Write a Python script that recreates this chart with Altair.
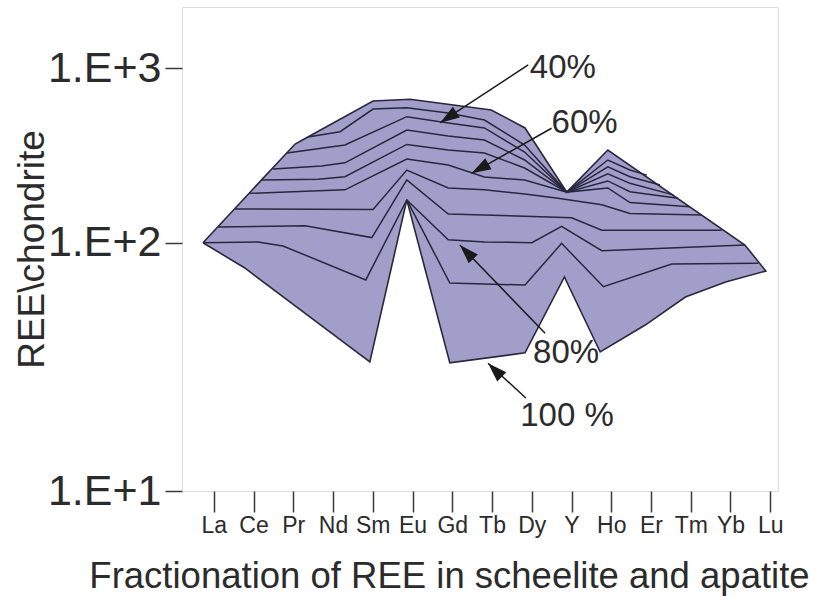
import altair as alt
import pandas as pd

elements = ["La", "Ce", "Pr", "Nd", "Sm", "Eu", "Gd", "Tb", "Dy", "Y", "Ho", "Er", "Tm", "Yb", "Lu"]

# upper envelope (x = position along the element axis, v = REE/chondrite)
top_x = [0, 2.29, 2.61, 4.23, 5.15, 7.17, 8.01, 9.05, 10.07, 13.48, 14]
top_v = [100, 368, 404, 650, 664, 577, 455, 195, 340, 97.9, 76.9]
# lower envelope (100 %)
bot_x = [0, 1.04, 4.15, 5.07, 6.14, 8.01, 8.99, 9.88, 11, 12, 13, 14]
bot_v = [100, 79.1, 33.1, 176, 32.8, 36.0, 72.8, 36.3, 46.6, 60.4, 69.5, 76.9]

# interior fractionation curves
A_x = [2.61, 3.41, 4.23, 5.07, 6.1, 7.0, 8.0, 9.05, 10.07, 10.62, 11.04]
A_v = [404, 433, 584, 594, 554, 505, 363, 195, 298, 261, 244]
B_x = [2.09, 3.53, 5.07, 6.1, 7.0, 8.0, 9.05, 10.07, 10.62, 11.37]
B_v = [327, 363, 528, 486, 455, 331, 195, 272, 239, 214]
C_x = [1.74, 2.95, 3.53, 5.07, 6.1, 7.0, 8.0, 9.05, 10.07, 10.62, 11.70]
C_v = [265, 275, 287, 443, 409, 388, 298, 195, 248, 219, 188]
D_x = [1.47, 2.87, 3.53, 5.07, 6.1, 7.0, 8.0, 9.05, 10.07, 10.62, 11.82]
D_v = [229, 231, 239, 366, 340, 327, 268, 195, 226, 196, 180]
E_x = [1.17, 3.53, 5.07, 6.1, 7.0, 8.0, 9.05, 10.07, 10.62, 12.11]
E_v = [192, 201, 302, 279, 238, 229, 195, 206, 170, 161]
F_x = [0.80, 4.23, 5.07, 6.1, 7.0, 8.0, 8.83, 9.92, 10.62, 12.41]
F_v = [156, 155, 261, 206, 201, 190, 180, 165, 147, 144]
G_x = [0.37, 2.54, 4.2, 5.07, 6.1, 7.0, 8.0, 9.17, 9.92, 12.90]
G_v = [123, 125, 107, 229, 146, 144, 142, 139, 118, 118]
H_x = [0, 1.37, 1.99, 4.05, 5.07, 6.1, 7.0, 8.18, 8.92, 9.92, 13.48]
H_v = [100, 101, 97.0, 70.8, 176, 104, 101, 100, 124, 92.9, 97.9]
I_x = [5.07, 6.14, 8.01, 8.92, 9.96, 11.66, 13.81]
I_v = [176, 68.8, 67.5, 99.4, 66.5, 82.0, 82.6]

# annotations
ann_text = ["40%", "60%", "80%", "100 %"]
ann_x = [8.13, 8.67, 8.21, 7.89]
ann_v = [1004, 484, 36.0, 20.0]
tail_x = [8.09, 8.67, 8.51, 8.03]
tail_v = [1045, 453, 43.2, 23.7]
tip_x = [5.90, 6.68, 6.39, 7.09]
tip_v = [488, 250, 97.9, 32.7]
head_angle = [236.8, 240.6, 316.1, 314.8]

FILL = "#a19fca"
LINE = "#28273d"
FONT = "Liberation Sans"
FRAME = "#3a3a3a"
TEXT = "#2b2b2b"

poly_x = top_x + bot_x[::-1][1:]
poly_v = top_v + bot_v[::-1][1:]
poly = pd.DataFrame({"x": poly_x, "v": poly_v, "o": list(range(len(poly_x)))})

rows = []
for name, xs_, vs_ in [("A", A_x, A_v), ("B", B_x, B_v), ("C", C_x, C_v), ("D", D_x, D_v),
                       ("E", E_x, E_v), ("F", F_x, F_v), ("G", G_x, G_v), ("H", H_x, H_v),
                       ("I", I_x, I_v)]:
    for k, (xx, vv) in enumerate(zip(xs_, vs_)):
        rows.append({"s": name, "x": xx, "v": vv, "o": k})
lines = pd.DataFrame(rows)

arrows = pd.DataFrame({"x": tail_x, "v": tail_v, "x2": tip_x, "v2": tip_v, "a": head_angle})
labels = pd.DataFrame({"t": ann_text, "x": ann_x, "v": ann_v})
ticks = pd.DataFrame({"i": list(range(len(elements))), "v": [100] * len(elements)})

xs = alt.Scale(domain=[-0.522, 14.303], nice=False, zero=False)
ys = alt.Scale(type="log", domain=[10, 100, 1000, 2246], range=[484, 235.7, 61.3, 0], nice=False)

label_expr = "[" + ",".join("'%s'" % e for e in elements) + "][datum.value]"

yaxis = alt.Axis(values=[10, 100, 1000],
                 labelExpr="'1.E+' + round(log(datum.value)/LN10)",
                 title="REE\\chondrite", titleFontSize=37, titleFont=FONT,
                 titleFontWeight="normal", titleColor=TEXT,
                 titleX=-150, titleY=242, titleAngle=270,
                 titleAlign="center", titleBaseline="middle",
                 labelFontSize=43, labelFont=FONT, labelColor=TEXT,
                 labelPadding=4, tickSize=17, tickColor=FRAME, tickWidth=1.5,
                 domain=False, grid=False)


def Y(field):
    return alt.Y(field, scale=ys, axis=yaxis)


axis_layer = alt.Chart(ticks).mark_point(opacity=0).encode(
    x=alt.X("i:Q", scale=alt.Scale(domain=[-0.799, 14.195], nice=False, zero=False),
            axis=alt.Axis(values=list(range(len(elements))), labelExpr=label_expr,
                          title="Fractionation of REE in scheelite and apatite",
                          titleFontSize=36.5, titleFont=FONT, titleFontWeight="normal",
                          titleColor=TEXT, titleX=267, titleY=85, titleAlign="center",
                          titleBaseline="middle",
                          labelFontSize=23, labelFont=FONT, labelColor=TEXT,
                          labelPadding=2, tickSize=21, tickColor=FRAME, tickWidth=1.5,
                          domain=False, grid=False)),
    y=Y("v:Q"),
)

polygon = alt.Chart(poly).mark_line(fill=FILL, stroke=LINE, strokeWidth=1.6).encode(
    x=alt.X("x:Q", scale=xs, axis=None),
    y=Y("v:Q"),
    order="o:Q",
)

curves = alt.Chart(lines).mark_line(stroke=LINE, strokeWidth=1.5).encode(
    x=alt.X("x:Q", scale=xs, axis=None),
    y=Y("v:Q"),
    detail="s:N",
    order="o:Q",
)

shafts = alt.Chart(arrows).mark_rule(color="#1a1a1a", strokeWidth=1.5).encode(
    x=alt.X("x:Q", scale=xs, axis=None),
    y=Y("v:Q"),
    x2="x2:Q",
    y2="v2:Q",
)

heads = alt.Chart(arrows).mark_point(
    shape="M0,0 L0.33,1 L-0.33,1 Z", filled=True, color="#1a1a1a", size=1500, opacity=1
).encode(
    x=alt.X("x2:Q", scale=xs, axis=None),
    y=Y("v2:Q"),
    angle=alt.Angle("a:Q", scale=None),
)

texts = alt.Chart(labels).mark_text(
    align="left", baseline="middle", fontSize=33, font=FONT, color=TEXT
).encode(
    x=alt.X("x:Q", scale=xs, axis=None),
    y=Y("v:Q"),
    text="t:N",
)

chart = alt.layer(axis_layer, polygon, curves, shafts, heads, texts).resolve_scale(
    x="independent"
).properties(
    width=596, height=484,
    padding={"left": 182, "top": 7, "right": 50, "bottom": 112},
    autosize="none",
).configure_view(stroke=FRAME, strokeWidth=1.5).configure(background="white")

chart.save("out.html", embed_options={"renderer": "svg", "actions": False})
